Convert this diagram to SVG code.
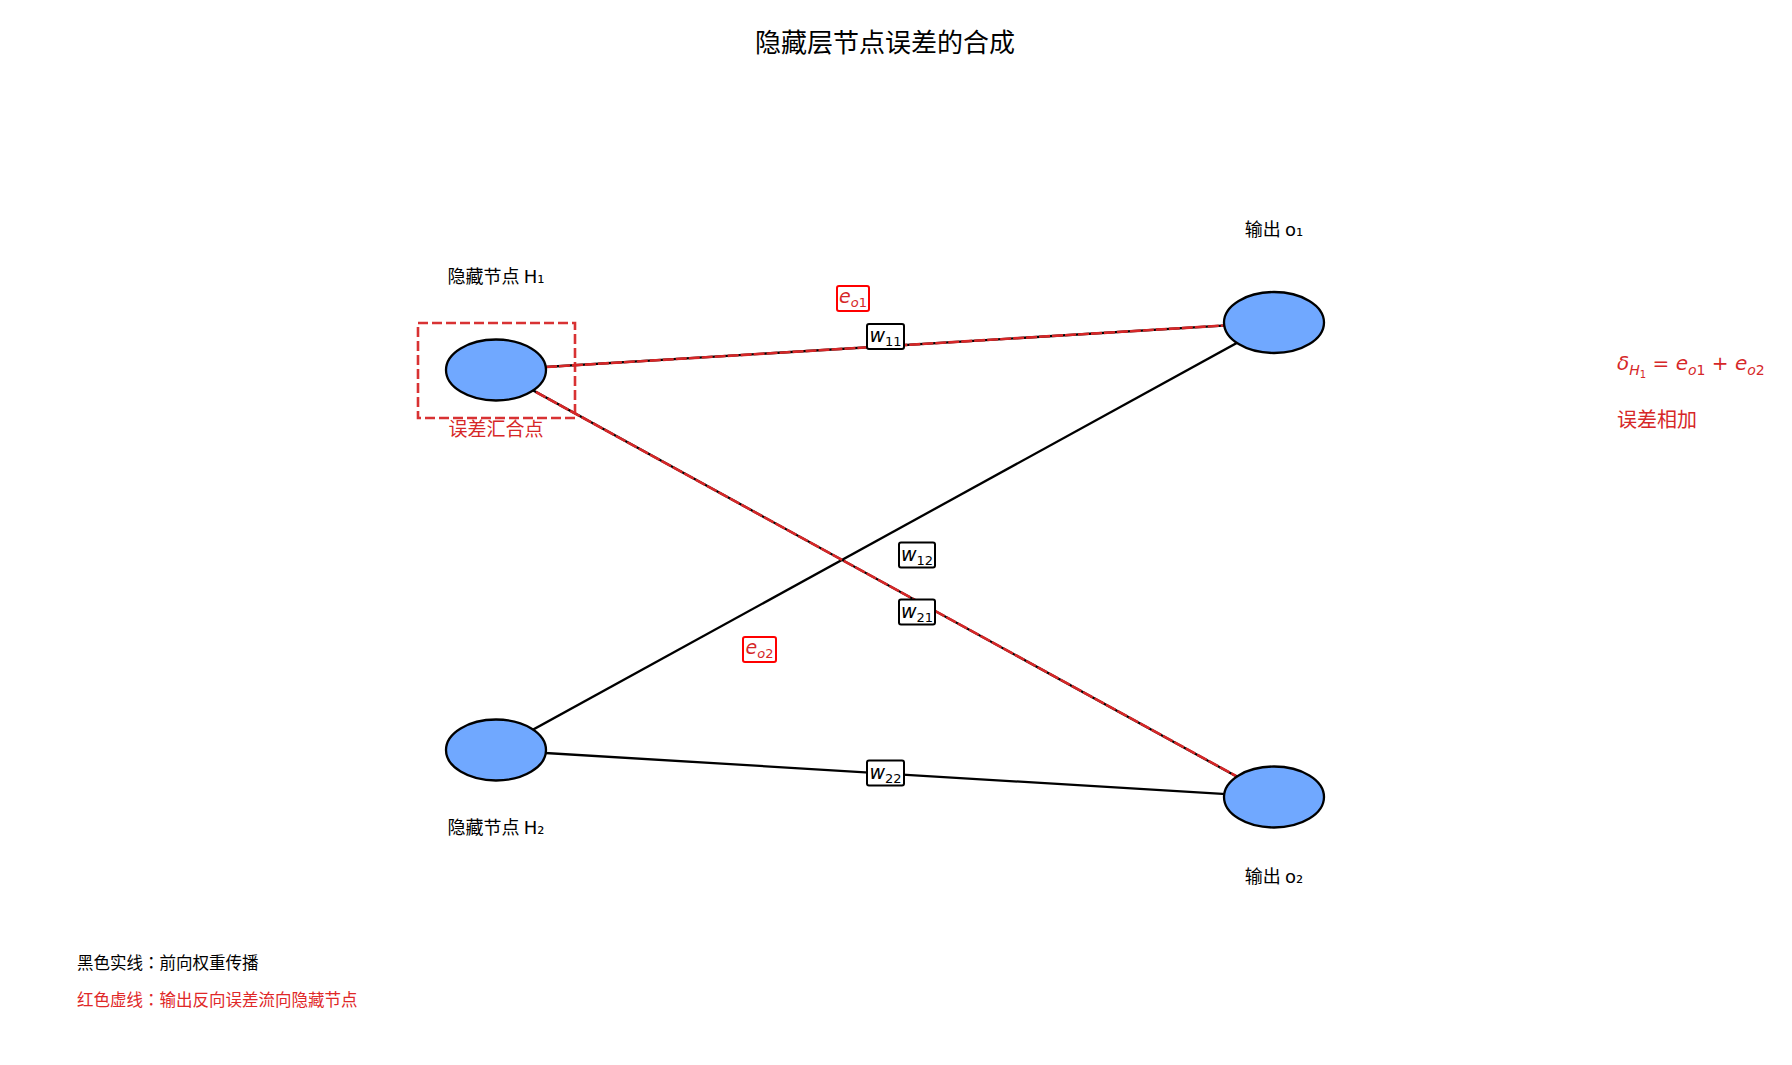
<svg xmlns="http://www.w3.org/2000/svg" width="1792" height="1065" viewBox="0 0 1792 1065">
<style>
  .cjk { font-family: "Noto Sans CJK SC", "DejaVu Sans", sans-serif; }
  .cjktc { font-family: "Noto Sans CJK TC", "Noto Sans CJK SC", sans-serif; }
  .lat { font-family: "DejaVu Sans", sans-serif; }
  .lbl { font-size: 18px; fill: #000; text-anchor: middle; }
  .node { fill: #70a8ff; stroke: #000; stroke-width: 2.3; }
  .fw { stroke: #000; stroke-width: 2.3; fill: none; }
  .bw { stroke: #d62728; stroke-width: 2.6; stroke-dasharray: 11 2; fill: none; }
  .math { font-family: "DejaVu Sans", sans-serif; }
  .wbox { fill: #fff; stroke: #000; stroke-width: 2; }
  .ebox { fill: #fff; stroke: #ff0000; stroke-width: 2; }
  .red { fill: #d62728; }
</style>
<rect width="1792" height="1065" fill="#fff"/>
<text class="cjk" x="885" y="52" font-size="26" text-anchor="middle" fill="#000">隐藏层节点误差的合成</text>

<g id="connectors">
  <line class="fw" x1="496" y1="370" x2="1274" y2="322.5"/>
  <line class="fw" x1="496" y1="370" x2="1274" y2="797"/>
  <line class="fw" x1="496" y1="750" x2="1274" y2="322.5"/>
  <line class="fw" x1="496" y1="750" x2="1274" y2="797"/>
  <line class="bw" x1="546" y1="367" x2="1224" y2="325.5"/>
  <line class="bw" x1="536" y1="392" x2="1236" y2="776"/>
</g>

<g id="H1">
  <rect x="418" y="323" width="157" height="95" fill="none" stroke="#d62728" stroke-width="2.6" stroke-dasharray="10 4" opacity="0.95"/>
  <ellipse class="node" cx="496" cy="370" rx="50" ry="30.5"/>
  <text class="cjk lbl" x="496" y="283">隐藏节点 <tspan class="lat">H₁</tspan></text>
  <text class="cjk" x="496" y="436" font-size="19" text-anchor="middle" fill="#d62728">误差汇合点</text>
</g>
<g id="H2">
  <ellipse class="node" cx="496" cy="750" rx="50" ry="30.5"/>
  <text class="cjk lbl" x="496" y="834">隐藏节点 <tspan class="lat">H₂</tspan></text>
</g>
<g id="o1">
  <ellipse class="node" cx="1274" cy="322.5" rx="50" ry="30.5"/>
  <text class="cjk lbl" x="1274" y="236">输出 <tspan class="lat">o₁</tspan></text>
</g>
<g id="o2">
  <ellipse class="node" cx="1274" cy="797" rx="50" ry="30.5"/>
  <text class="cjk lbl" x="1274" y="883">输出 <tspan class="lat">o₂</tspan></text>
</g>

<g id="w11">
  <rect class="wbox" x="867" y="324" width="37" height="25" rx="2"/>
  <text class="math" x="885.5" y="342" text-anchor="middle" font-size="19"><tspan font-style="italic">w</tspan><tspan font-size="13" dy="4">11</tspan></text>
</g>
<g id="w12">
  <rect class="wbox" x="899" y="542.5" width="36" height="25" rx="2"/>
  <text class="math" x="917" y="560.5" text-anchor="middle" font-size="19"><tspan font-style="italic">w</tspan><tspan font-size="13" dy="4">12</tspan></text>
</g>
<g id="w21">
  <rect class="wbox" x="899" y="599.5" width="36" height="25" rx="2"/>
  <text class="math" x="917" y="617.5" text-anchor="middle" font-size="19"><tspan font-style="italic">w</tspan><tspan font-size="13" dy="4">21</tspan></text>
</g>
<g id="w22">
  <rect class="wbox" x="867" y="760.5" width="37" height="25" rx="2"/>
  <text class="math" x="885.5" y="778.5" text-anchor="middle" font-size="19"><tspan font-style="italic">w</tspan><tspan font-size="13" dy="4">22</tspan></text>
</g>
<g id="eo1">
  <rect class="ebox" x="837" y="286" width="32" height="25" rx="2"/>
  <text class="math red" x="853" y="303" text-anchor="middle" font-size="19"><tspan font-style="italic">e</tspan><tspan font-size="13" dy="4"><tspan font-style="italic">o</tspan>1</tspan></text>
</g>
<g id="eo2">
  <rect class="ebox" x="743" y="637" width="33" height="25" rx="2"/>
  <text class="math red" x="759.5" y="654" text-anchor="middle" font-size="19"><tspan font-style="italic">e</tspan><tspan font-size="13" dy="4"><tspan font-style="italic">o</tspan>2</tspan></text>
</g>

<g id="formula">
  <text class="math red" x="1617" y="370" font-size="20"><tspan font-style="italic">δ</tspan><tspan font-style="italic" font-size="14" dy="5">H</tspan><tspan font-size="10" dy="3">1</tspan><tspan dy="-8"> = </tspan><tspan font-style="italic">e</tspan><tspan font-size="14" dy="5"><tspan font-style="italic">o</tspan>1</tspan><tspan dy="-5"> + </tspan><tspan font-style="italic">e</tspan><tspan font-size="14" dy="5"><tspan font-style="italic">o</tspan>2</tspan></text>
  <text class="cjk red" x="1617" y="427" font-size="20">误差相加</text>
</g>

<g id="legend">
  <text class="cjktc" x="77" y="969" font-size="16.5" fill="#000">黑色实线：前向权重传播</text>
  <text class="cjktc" x="77" y="1006" font-size="16.5" fill="#e02828">红色虚线：输出反向误差流向隐藏节点</text>
</g>
</svg>
